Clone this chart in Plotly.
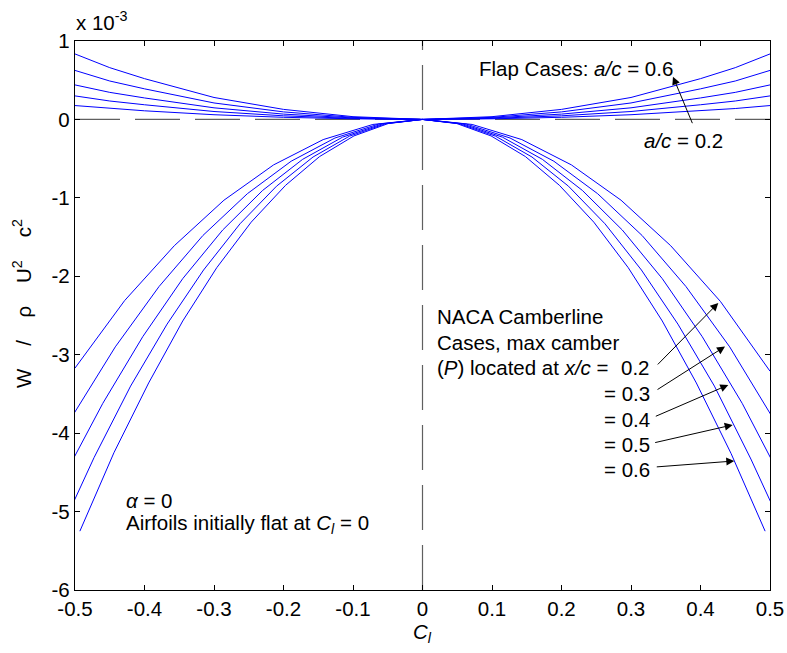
import plotly.graph_objects as go

# Figure geometry (pixels)
W_PX, H_PX = 787, 653
M_L, M_R, M_T, M_B = 75, 17, 41, 63
PLOT_W = W_PX - M_L - M_R
PLOT_H = H_PX - M_T - M_B

# Wind-up energy W / (rho U^2 c^2), in units of 1e-3, versus lift coefficient
# NACA camberline cases, max camber location P = x/c
naca_cl_p02 = [-0.5, -0.4286, -0.3571, -0.2857, -0.2143, -0.1429, -0.0714, 0,
               0.0714, 0.1429, 0.2143, 0.2857, 0.3571, 0.4286, 0.5]
naca_w_p02 = [-3.17, -2.31, -1.61, -1.03, -0.58, -0.257, -0.064, 0,
              -0.064, -0.257, -0.58, -1.03, -1.61, -2.32, -3.21]

naca_cl_p03 = [-0.505, -0.442, -0.379, -0.316, -0.252, -0.189, -0.126, -0.063, 0,
               0.063, 0.126, 0.189, 0.252, 0.316, 0.379, 0.442, 0.505]
naca_w_p03 = [-3.80, -2.90, -2.13, -1.48, -0.947, -0.533, -0.237, -0.059, 0,
              -0.059, -0.237, -0.533, -0.947, -1.48, -2.13, -2.90, -3.82]

naca_cl_p04 = [-0.5175, -0.46, -0.4025, -0.345, -0.2875, -0.23, -0.1725, -0.115, -0.0575, 0,
               0.0575, 0.115, 0.1725, 0.23, 0.2875, 0.345, 0.4025, 0.46, 0.5175]
naca_w_p04 = [-4.58, -3.62, -2.77, -2.03, -1.41, -0.905, -0.509, -0.226, -0.057, 0,
              -0.057, -0.226, -0.509, -0.905, -1.41, -2.03, -2.77, -3.62, -4.60]

naca_cl_p05 = [-0.525, -0.4725, -0.42, -0.3675, -0.315, -0.2625, -0.21, -0.1575, -0.105, -0.0525, 0,
               0.0525, 0.105, 0.1575, 0.21, 0.2625, 0.315, 0.3675, 0.42, 0.4725, 0.525]
naca_w_p05 = [-5.32, -4.31, -3.40, -2.61, -1.92, -1.33, -0.851, -0.479, -0.213, -0.053, 0,
              -0.053, -0.213, -0.479, -0.851, -1.33, -1.92, -2.61, -3.40, -4.33, -5.34]

naca_cl_p06 = [-0.493, -0.444, -0.394, -0.345, -0.296, -0.2465, -0.197, -0.148, -0.0986, -0.0493, 0,
               0.0493, 0.0986, 0.148, 0.197, 0.2465, 0.296, 0.345, 0.394, 0.444, 0.493]
naca_w_p06 = [-5.25, -4.25, -3.36, -2.57, -1.89, -1.31, -0.84, -0.473, -0.21, -0.0525, 0,
              -0.0525, -0.21, -0.473, -0.84, -1.31, -1.89, -2.57, -3.36, -4.26, -5.25]

# Flap cases, hinge location a/c
flap_cl = [-0.5, -0.45, -0.4, -0.3, -0.2, -0.1, 0, 0.1, 0.2, 0.3, 0.4, 0.45, 0.5]
flap_w_a06 = [0.835, 0.66, 0.52, 0.28, 0.128, 0.035, 0, 0.035, 0.128, 0.28, 0.52, 0.66, 0.835]
flap_w_a05 = [0.625, 0.49, 0.39, 0.21, 0.096, 0.026, 0, 0.026, 0.096, 0.21, 0.39, 0.49, 0.625]
flap_w_a04 = [0.44, 0.345, 0.274, 0.148, 0.068, 0.019, 0, 0.019, 0.068, 0.148, 0.274, 0.345, 0.44]
flap_w_a03 = [0.30, 0.235, 0.187, 0.101, 0.046, 0.013, 0, 0.013, 0.046, 0.101, 0.187, 0.235, 0.30]
flap_w_a02 = [0.177, 0.139, 0.110, 0.060, 0.027, 0.008, 0, 0.008, 0.027, 0.060, 0.110, 0.139, 0.177]

x_ticks = [-0.5, -0.4, -0.3, -0.2, -0.1, 0, 0.1, 0.2, 0.3, 0.4, 0.5]
x_tick_text = ["-0.5", "-0.4", "-0.3", "-0.2", "-0.1", "0", "0.1", "0.2", "0.3", "0.4", "0.5"]
y_ticks = [-6, -5, -4, -3, -2, -1, 0, 1]
y_tick_text = ["-6", "-5", "-4", "-3", "-2", "-1", "0", "1"]

X_RANGE = [-0.5, 0.5]
Y_RANGE = [-6, 1]

FONT = "Arial, 'Liberation Sans', sans-serif"
FS = 20.5
BLUE = "#0000ff"
NB = "&nbsp;"

fig = go.Figure()

# Reference axes through the origin (dashed)
fig.add_trace(go.Scatter(x=X_RANGE, y=[0, 0], mode="lines",
                         line=dict(color="#606060", width=1.2, dash="45px,15px"),
                         hoverinfo="skip", showlegend=False))
fig.add_trace(go.Scatter(x=[0, 0], y=Y_RANGE, mode="lines",
                         line=dict(color="#606060", width=1.2, dash="45px,15px"),
                         hoverinfo="skip", showlegend=False))

naca_series = [(naca_cl_p02, naca_w_p02), (naca_cl_p03, naca_w_p03), (naca_cl_p04, naca_w_p04),
               (naca_cl_p05, naca_w_p05), (naca_cl_p06, naca_w_p06)]
for cl, w in naca_series:
    fig.add_trace(go.Scatter(x=cl, y=w, mode="lines", line=dict(color=BLUE, width=1),
                             showlegend=False))

for w in [flap_w_a06, flap_w_a05, flap_w_a04, flap_w_a03, flap_w_a02]:
    fig.add_trace(go.Scatter(x=flap_cl, y=w, mode="lines", line=dict(color=BLUE, width=1),
                             showlegend=False))


def px_x(px):
    return (px - M_L) / PLOT_W


def px_y(py):
    return (H_PX - M_B - py) / PLOT_H


def text_at(txt, px, py, xanchor="left", yanchor="middle", angle=0):
    fig.add_annotation(text=txt, xref="paper", yref="paper", x=px_x(px), y=px_y(py),
                       xanchor=xanchor, yanchor=yanchor, showarrow=False, textangle=angle,
                       font=dict(family=FONT, size=FS, color="black"))


def arrow(tip_x, tip_y, dx, dy):
    fig.add_annotation(text="", x=tip_x, y=tip_y, xref="x", yref="y",
                       ax=dx, ay=dy, axref="pixel", ayref="pixel",
                       showarrow=True, arrowhead=2, arrowsize=1.6, arrowwidth=1,
                       arrowcolor="black", standoff=0, startstandoff=0)


# Exponent label for the y axis
text_at("x 10<sup>-3</sup>", 74, 36, yanchor="bottom")

# Flap annotations
text_at("Flap Cases: <i>a/c</i> = 0.6", 477, 68)
text_at("<i>a/c</i> = 0.2", 642, 140)
arrow(0.3604, 0.545, 20, 48)

# NACA camberline annotations
text_at("NACA Camberline", 435, 316)
text_at("Cases, max camber", 435, 342)
text_at("(<i>P</i>) located at <i>x/c</i> =", 435, 367)
text_at("0.2", 652, 367, xanchor="right")
text_at("= 0.3", 652, 393, xanchor="right")
text_at("= 0.4", 652, 419, xanchor="right")
text_at("= 0.5", 652, 444, xanchor="right")
text_at("= 0.6", 652, 469, xanchor="right")

arrow(0.4256, -2.34, -62, 63)
arrow(0.4353, -2.895, -69, 44)
arrow(0.4400, -3.385, -74, 32)
arrow(0.4463, -3.895, -79, 18)
arrow(0.4486, -4.355, -79, 6)

# Case description
text_at("<i>α</i> = 0", 124, 500)
text_at("Airfoils initially flat at <i>C<sub>l</sub></i> = 0", 124, 524)

# Axis titles
text_at("W / ρ U<sup>2</sup> c<sup>2</sup>".replace(" ", NB * 4), 22, 304,
        xanchor="center", angle=-90)
text_at("<i>C<sub>l</sub></i>", 422, 633, xanchor="center")

axis_common = dict(showgrid=False, zeroline=False, showline=True, linecolor="black",
                   linewidth=1.3, mirror="ticks", ticks="inside", ticklen=5,
                   tickcolor="black", tickwidth=1, automargin=False,
                   tickfont=dict(family=FONT, size=FS, color="black"))

fig.update_layout(
    width=W_PX, height=H_PX,
    margin=dict(l=M_L, r=M_R, t=M_T, b=M_B, autoexpand=False),
    paper_bgcolor="white", plot_bgcolor="white",
    xaxis=dict(range=X_RANGE, tickmode="array", tickvals=x_ticks, ticktext=x_tick_text,
               **axis_common),
    yaxis=dict(range=Y_RANGE, tickmode="array", tickvals=y_ticks, ticktext=y_tick_text,
               **axis_common),
    showlegend=False,
)

fig.write_html("out.html")
